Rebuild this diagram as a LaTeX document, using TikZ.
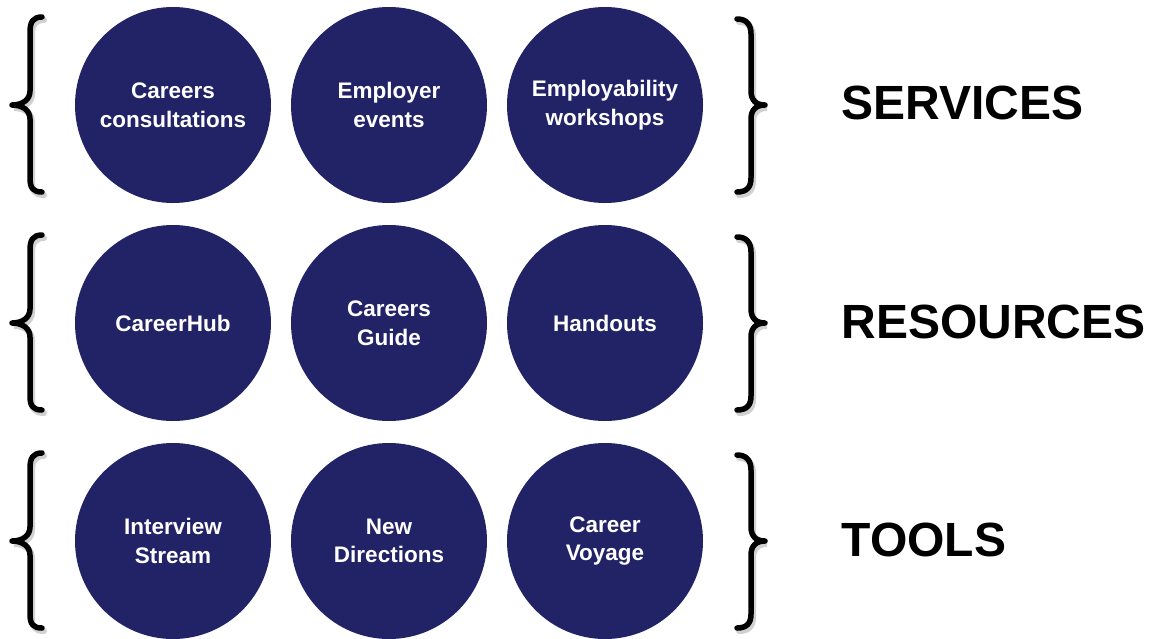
\documentclass[tikz,border=0pt]{standalone}
\usepackage{fontspec}
\setmainfont{Liberation Sans}
\begin{document}
\begin{tikzpicture}[x=1pt,y=-1pt,
  bubble/.style={circle,fill=navy,minimum size=196pt,inner sep=0pt,text=white,
    font=\fontsize{22.5}{28.5}\selectfont\bfseries,align=center},
  heading/.style={anchor=west,font=\fontsize{48}{50}\selectfont\bfseries,text=black},
  bracestroke/.style={line width=5.5pt,line cap=round,line join=round},
  braceshadow/.style={line width=6pt,line cap=round,draw=black!18}]
\definecolor{navy}{RGB}{34,35,103}
\useasboundingbox (0,0) rectangle (1151,638);
\newcommand{\leftbrace}[1]{%
  \foreach \dx/\dy/\st in {2/3/braceshadow,0/0/bracestroke}{
  \draw[\st,shift={(\dx,#1+\dy)}] (42,-88) .. controls (33,-88) and (30,-83) .. (30,-73) -- (30,-14)
     .. controls (30,-5) and (22,0) .. (12,0)
     .. controls (22,0) and (30,5) .. (30,14) -- (30,73)
     .. controls (30,83) and (33,87) .. (42,87);}}
\newcommand{\rightbrace}[1]{%
  \foreach \dx/\dy/\st in {2/3/braceshadow,0/0/bracestroke}{
  \draw[\st,shift={(\dx,#1+\dy)}] (737,-86) .. controls (746,-86) and (751,-81) .. (751,-71) -- (751,-14)
     .. controls (751,-5) and (756,0) .. (765,0)
     .. controls (756,0) and (751,5) .. (751,14) -- (751,73)
     .. controls (751,83) and (746,87) .. (737,87);}}
\leftbrace{105}\rightbrace{105}
\leftbrace{323}\rightbrace{323}
\leftbrace{541}\rightbrace{541}
\node[bubble] (c1) at (173,105) {Careers\\consultations};
\node[bubble] (c2) at (389,105) {Employer\\events};
\node[bubble] (c3) at (605,105) {Employability\\workshops};
\node[bubble] (r1) at (173,323) {CareerHub};
\node[bubble] (r2) at (389,323) {Careers\\Guide};
\node[bubble] (r3) at (605,323) {Handouts};
\node[bubble] (t1) at (173,541) {Interview\\Stream};
\node[bubble] (t2) at (389,541) {New\\Directions};
\node[bubble] (t3) at (605,541) {Career\\Voyage};
\node[heading] (h1) at (838,103) {SERVICES};
\node[heading] (h2) at (838,322) {RESOURCES};
\node[heading] (h3) at (838,540) {TOOLS};
\end{tikzpicture}
\end{document}
